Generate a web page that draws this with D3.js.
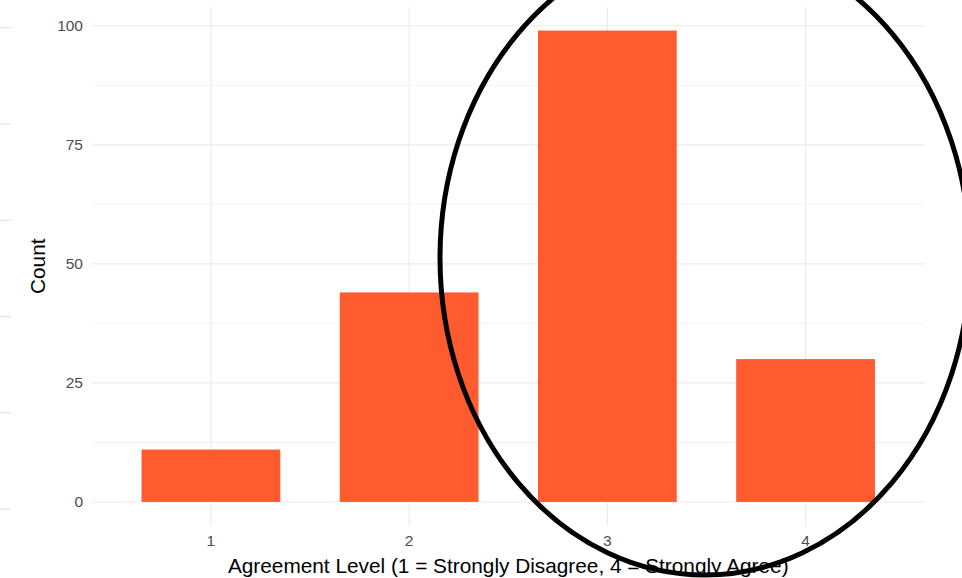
<!DOCTYPE html>
<html><head><meta charset="utf-8">
<script src="https://cdn.jsdelivr.net/npm/d3@7"></script>
<style>body{margin:0;background:#fff}svg{display:block}text{font-family:"Liberation Sans",Arial,sans-serif}</style>
</head><body>
<svg id="c" width="962" height="578"></svg>
<script>
const categories = ["1","2","3","4"];
const counts = [11, 44, 99, 30];
const yTicks = [0, 25, 50, 75, 100];
const yMinor = [12.5, 37.5, 62.5, 87.5];
const xTitle = "Agreement Level (1 = Strongly Disagree, 4 = Strongly Agree)";
const yTitle = "Count";

const svg = d3.select("#c");
const panel = {l: 92, r: 924.5, t: 7, b: 525.5};
const maxV = d3.max(counts);
const y = d3.scaleLinear().domain([-0.05*maxV, maxV*1.05]).range([panel.b, panel.t]);
const xc = d3.scaleLinear().domain([0.4, 4.6]).range([panel.l, panel.r]);
const bw = (xc(1.35) - xc(0.65));
const grid = "#ebebeb";

// stray edge ticks at left
const edge = d3.scaleLinear().domain([0,5]).range([27.7, 509]);
svg.append("g").selectAll("line").data(d3.range(6)).join("line")
  .attr("x1",0).attr("x2",11).attr("y1",d=>edge(d)).attr("y2",d=>edge(d))
  .attr("stroke","#e3e3e3").attr("stroke-width",1.2);

const g = svg.append("g");
g.selectAll(".minor").data(yMinor).join("line")
  .attr("x1",panel.l).attr("x2",panel.r).attr("y1",d=>y(d)).attr("y2",d=>y(d))
  .attr("stroke",grid).attr("stroke-width",0.6);
g.selectAll(".major").data(yTicks).join("line")
  .attr("x1",panel.l).attr("x2",panel.r).attr("y1",d=>y(d)).attr("y2",d=>y(d))
  .attr("stroke",grid).attr("stroke-width",1.1);
g.selectAll(".vmaj").data(categories).join("line")
  .attr("x1",(d,i)=>xc(i+1)).attr("x2",(d,i)=>xc(i+1)).attr("y1",panel.t).attr("y2",panel.b)
  .attr("stroke",grid).attr("stroke-width",1.1);

g.selectAll("rect").data(counts).join("rect")
  .attr("x",(d,i)=>xc(i+1)-bw/2).attr("width",bw)
  .attr("y",d=>y(d)).attr("height",d=>y(0)-y(d))
  .attr("fill","#FF5B2F");

// axes labels
g.selectAll(".yl").data(yTicks).join("text")
  .attr("x",83).attr("y",d=>y(d)).attr("dy","0.35em").attr("text-anchor","end")
  .attr("font-size",15.5).attr("fill","#4d4d4d").text(d=>d);
g.selectAll(".xl").data(categories).join("text")
  .attr("x",(d,i)=>xc(i+1)).attr("y",541).attr("dy","0.35em").attr("text-anchor","middle")
  .attr("font-size",15.5).attr("fill","#4d4d4d").text(d=>d);
svg.append("text").attr("x",(panel.l+panel.r)/2).attr("y",573).attr("text-anchor","middle")
  .attr("font-size",20.8).attr("fill","#000").text(xTitle);
svg.append("text").attr("transform",`translate(45,${(panel.t+panel.b)/2}) rotate(-90)`)
  .attr("text-anchor","middle").attr("font-size",20.8).attr("fill","#000").text(yTitle);

// annotation ellipse
svg.append("ellipse").attr("cx",705).attr("cy",258).attr("rx",265).attr("ry",317)
  .attr("fill","none").attr("stroke","#000").attr("stroke-width",5);
</script>
</body></html>
